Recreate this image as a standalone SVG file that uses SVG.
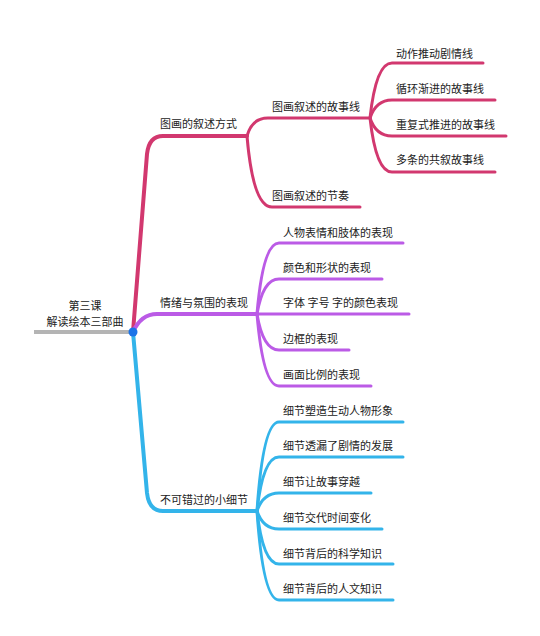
<svg xmlns="http://www.w3.org/2000/svg" width="540" height="636" viewBox="0 0 540 636">
<style>
text{font-family:"Noto Sans CJK SC","Noto Sans",sans-serif;font-size:11px;fill:#222;dominant-baseline:central}
.p{stroke:#d2386f;fill:none;stroke-linecap:round}
.v{stroke:#bb5be6;fill:none;stroke-linecap:round}
.b{stroke:#33b4ea;fill:none;stroke-linecap:round}
.m{stroke-width:4}
.s{stroke-width:3}
</style>
<rect width="540" height="636" fill="#fff"/>
<g id="connectors">
<path d="M34,332 L133,332" stroke="#b4b4b4" stroke-width="4" fill="none"/>
<path class="p m" d="M133,332 L147,154 Q149,136 163,136 L247,136"/>
<path class="v m" d="M133,332 Q141,314 157,314 L257,314"/>
<path class="b m" d="M133,332 L147,493 Q149,511 163,511 L257,511"/>
<path class="p s" d="M247,136 Q252,118 268,118 L370,118"/>
<path class="p s" d="M247,136 Q253,207 272,207 L360,207"/>
<path class="p s" d="M370,118 Q376,63 392,63 L483,63"/>
<path class="p s" d="M370,118 Q376,100 392,100 L495,100"/>
<path class="p s" d="M370,118 Q376,136 392,136 L506,136"/>
<path class="p s" d="M370,118 Q376,172 392,172 L495,172"/>
<path class="v s" d="M257,314 Q263,243 279,243 L403,243"/>
<path class="v s" d="M257,314 Q263,279 279,279 L382,279"/>
<path class="v s" d="M257,314 L409,314"/>
<path class="v s" d="M257,314 Q263,350 279,350 L349,350"/>
<path class="v s" d="M257,314 Q263,386 279,386 L371,386"/>
<path class="b s" d="M257,511 Q263,422 279,422 L403,422"/>
<path class="b s" d="M257,511 Q263,457 279,457 L403,457"/>
<path class="b s" d="M257,511 Q263,493 279,493 L371,493"/>
<path class="b s" d="M257,511 Q263,529 279,529 L382,529"/>
<path class="b s" d="M257,511 Q263,564 279,564 L393,564"/>
<path class="b s" d="M257,511 Q263,600 279,600 L393,600"/>
<circle cx="133" cy="332" r="4.5" fill="#1a73e8"/>
</g>
<g id="root"><text x="85" y="305" text-anchor="middle">第三课</text><text x="85" y="321" text-anchor="middle">解读绘本三部曲</text></g>
<g id="n1"><text x="160" y="123">图画的叙述方式</text></g>
<g id="n11"><text x="272" y="106">图画叙述的故事线</text></g>
<g id="n111"><text x="396" y="53">动作推动剧情线</text></g>
<g id="n112"><text x="396" y="88">循环渐进的故事线</text></g>
<g id="n113"><text x="396" y="124">重复式推进的故事线</text></g>
<g id="n114"><text x="396" y="159">多条的共叙故事线</text></g>
<g id="n12"><text x="272" y="195">图画叙述的节奏</text></g>
<g id="n2"><text x="160" y="302">情绪与氛围的表现</text></g>
<g id="n21"><text x="283" y="232">人物表情和肢体的表现</text></g>
<g id="n22"><text x="283" y="267">颜色和形状的表现</text></g>
<g id="n23"><text x="283" y="302">字体 字号 字的颜色表现</text></g>
<g id="n24"><text x="283" y="338">边框的表现</text></g>
<g id="n25"><text x="283" y="374">画面比例的表现</text></g>
<g id="n3"><text x="160" y="499">不可错过的小细节</text></g>
<g id="n31"><text x="283" y="410">细节塑造生动人物形象</text></g>
<g id="n32"><text x="283" y="445">细节透漏了剧情的发展</text></g>
<g id="n33"><text x="283" y="481">细节让故事穿越</text></g>
<g id="n34"><text x="283" y="517">细节交代时间变化</text></g>
<g id="n35"><text x="283" y="553">细节背后的科学知识</text></g>
<g id="n36"><text x="283" y="588">细节背后的人文知识</text></g>
</svg>
